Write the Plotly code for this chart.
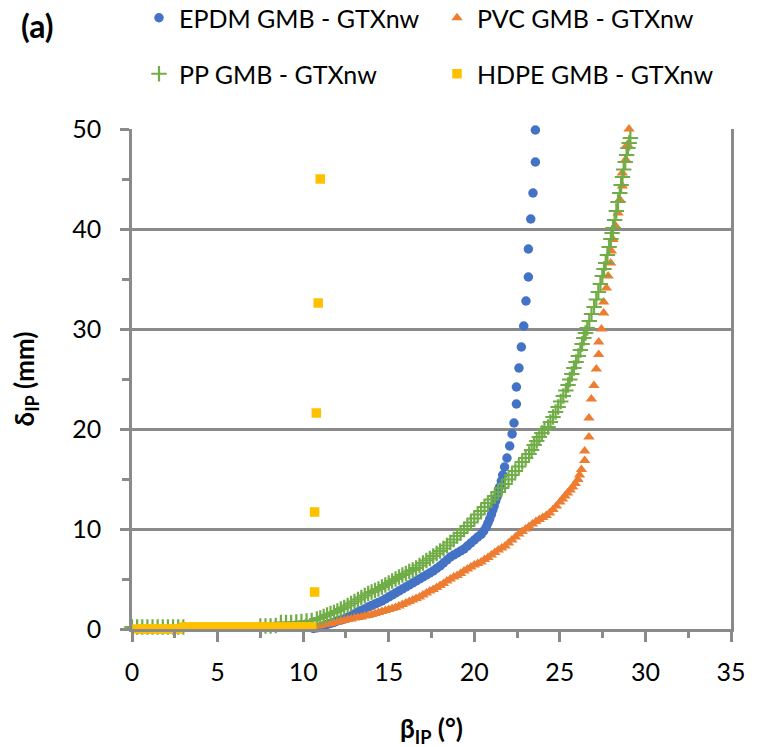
import plotly.graph_objects as go

# ---------------- data ----------------
epdm = [(0.0, -0.2), (0.5, -0.2), (1.0, -0.2), (1.5, -0.2), (2.0, -0.2), (2.5, -0.2), (3.0, -0.2),
        (3.5, -0.2), (4.0, -0.2), (4.5, -0.2), (5.0, -0.2), (5.5, -0.2), (6.0, -0.2), (6.5, -0.2),
        (7.0, -0.2), (7.5, -0.2), (8.0, -0.25), (8.5, -0.25), (9.0, -0.3), (9.4, -0.3),
        (9.8, -0.3), (10.0, -0.25), (10.2, -0.15), (10.4, -0.05), (10.6, 0.05), (10.8, 0.12),
        (11.0, 0.2), (11.2, 0.3), (11.4, 0.45), (11.6, 0.55), (11.8, 0.65), (12.0, 0.8),
        (12.2, 0.9), (12.4, 1.0), (12.6, 1.15), (12.8, 1.3), (13.0, 1.5), (13.2, 1.7),
        (13.4, 1.85), (13.6, 2.0), (13.8, 2.2), (14.0, 2.35), (14.2, 2.5), (14.4, 2.65),
        (14.6, 2.8), (14.8, 3.0), (15.0, 3.2), (15.2, 3.4), (15.4, 3.6), (15.6, 3.8),
        (15.8, 4.0), (16.0, 4.2), (16.2, 4.4), (16.4, 4.6), (16.6, 4.8), (16.8, 5.0),
        (17.0, 5.2), (17.2, 5.4), (17.4, 5.6), (17.6, 5.8), (17.8, 6.05), (18.0, 6.3),
        (18.2, 6.6), (18.4, 6.9), (18.6, 7.2), (18.8, 7.4), (19.0, 7.6), (19.2, 7.8),
        (19.4, 8.0), (19.6, 8.3), (19.8, 8.6), (20.0, 8.9), (20.2, 9.2), (20.4, 9.45),
        (20.55, 9.8), (20.7, 10.2), (20.8, 10.6), (20.9, 11.0), (21.0, 11.45), (21.08, 11.9),
        (21.16, 12.3), (21.25, 12.8), (21.33, 13.2), (21.4, 13.7), (21.48, 14.2), (21.58, 14.8),
        (21.66, 15.4), (21.77, 16.2), (21.91, 17.1), (22.07, 18.3), (22.21, 19.5), (22.32, 20.6),
        (22.46, 22.5), (22.46, 24.2), (22.61, 26.1), (22.75, 28.2), (22.89, 30.3), (23.02, 32.8),
        (23.16, 35.2), (23.16, 38.0), (23.30, 41.0), (23.43, 43.6), (23.57, 46.7), (23.57, 49.9)]

pvc = [(0.0, -0.15), (0.5, -0.15), (1.0, -0.15), (1.5, -0.15), (2.0, -0.15), (2.5, -0.15),
       (3.0, -0.15), (3.5, -0.15), (4.0, -0.15), (4.5, -0.15), (5.0, -0.15), (5.5, -0.15),
       (6.0, -0.15), (6.5, -0.15), (7.0, -0.15), (7.5, -0.2), (8.0, -0.2), (8.5, -0.15),
       (9.0, -0.1), (9.4, -0.1),
       (9.8, -0.05), (10.0, 0.0), (10.2, 0.05), (10.4, 0.15), (10.6, 0.2), (10.8, 0.3),
       (11.0, 0.35), (11.2, 0.45), (11.4, 0.5), (11.6, 0.55), (11.8, 0.65), (12.0, 0.7),
       (12.2, 0.8), (12.4, 0.85), (12.6, 0.95), (12.8, 1.0), (13.0, 1.1), (13.2, 1.15),
       (13.4, 1.2), (13.6, 1.3), (13.8, 1.35), (14.0, 1.45), (14.2, 1.55), (14.4, 1.65),
       (14.6, 1.75), (14.8, 1.85), (15.0, 1.95), (15.2, 2.05), (15.4, 2.15), (15.6, 2.3),
       (15.8, 2.45), (16.0, 2.6), (16.2, 2.75), (16.4, 2.9), (16.6, 3.05), (16.8, 3.2),
       (17.0, 3.4), (17.2, 3.6), (17.4, 3.8), (17.6, 3.95), (17.8, 4.15), (18.0, 4.35),
       (18.2, 4.55), (18.4, 4.8), (18.6, 5.0), (18.8, 5.2), (19.0, 5.35), (19.2, 5.55),
       (19.4, 5.8), (19.6, 6.0), (19.8, 6.2), (20.0, 6.4), (20.2, 6.55), (20.4, 6.7),
       (20.6, 6.95), (20.8, 7.15), (21.0, 7.4), (21.2, 7.65), (21.4, 7.9), (21.6, 8.1),
       (21.8, 8.3), (22.0, 8.6), (22.2, 8.9), (22.4, 9.2), (22.6, 9.5), (22.8, 9.75),
       (23.0, 10.0), (23.2, 10.25), (23.4, 10.5), (23.6, 10.75), (23.8, 10.95), (24.0, 11.15),
       (24.2, 11.35), (24.4, 11.6), (24.6, 11.95), (24.8, 12.3), (25.0, 12.7), (25.15, 13.0),
       (25.3, 13.3), (25.45, 13.6), (25.6, 13.9), (25.75, 14.2), (25.9, 14.55), (26.06, 14.95),
       (26.15, 15.4), (26.26, 15.95), (26.45, 16.85), (26.45, 17.8), (26.70, 19.2), (26.70, 21.1),
       (26.84, 23.0), (26.99, 24.35), (27.13, 26.0), (27.27, 27.45), (27.27, 28.7), (27.43, 30.0),
       (27.56, 31.6), (27.56, 32.7), (27.72, 34.1), (27.82, 35.3), (27.97, 36.6), (28.01, 37.8),
       (28.11, 38.95), (28.26, 40.3), (28.40, 41.6), (28.50, 42.95), (28.65, 44.3), (28.65, 45.6),
       (28.85, 46.95), (28.95, 48.45), (29.04, 50.0)]

pp = [(0.0, 0.2), (0.3, 0.2), (0.6, 0.2), (0.9, 0.2), (1.2, 0.2), (1.5, 0.2), (1.8, 0.2),
      (2.1, 0.2), (2.4, 0.2), (2.7, 0.2), (3.0, 0.2), (3.3, -0.1), (3.6, -0.1), (3.9, -0.1),
      (4.2, -0.1), (4.5, -0.1), (4.8, -0.1), (5.1, -0.1), (5.4, -0.1), (5.7, -0.1), (6.0, -0.1),
      (6.3, -0.1), (6.6, -0.1), (6.9, -0.1), (7.2, -0.1), (7.5, 0.3), (7.8, 0.3), (8.1, 0.3),
      (8.4, 0.35), (8.7, 0.65), (9.0, 0.65), (9.3, 0.65), (9.6, 0.7), (9.9, 0.75), (10.2, 0.8),
      (10.5, 0.85),
      (10.8, 1.0), (11.0, 1.1), (11.2, 1.25), (11.4, 1.4), (11.6, 1.55), (11.8, 1.65),
      (12.0, 1.8), (12.2, 2.0), (12.4, 2.15), (12.6, 2.35), (12.8, 2.55), (13.0, 2.75),
      (13.2, 2.95), (13.4, 3.15), (13.6, 3.35), (13.8, 3.55), (14.0, 3.7), (14.2, 3.85),
      (14.4, 4.0), (14.6, 4.2), (14.8, 4.4), (15.0, 4.6), (15.2, 4.8), (15.4, 5.0),
      (15.6, 5.2), (15.8, 5.4), (16.0, 5.55), (16.2, 5.75), (16.4, 5.9), (16.6, 6.1),
      (16.8, 6.35), (17.0, 6.6), (17.2, 6.85), (17.4, 7.05), (17.6, 7.3), (17.8, 7.55),
      (18.0, 7.8), (18.2, 8.05), (18.4, 8.35), (18.6, 8.65), (18.8, 8.95), (19.0, 9.3),
      (19.2, 9.6), (19.4, 9.95), (19.6, 10.3), (19.8, 10.65), (20.0, 11.05), (20.2, 11.45),
      (20.4, 11.8), (20.6, 12.2), (20.8, 12.6), (21.0, 12.95), (21.2, 13.3), (21.4, 13.7),
      (21.6, 14.1), (21.8, 14.5), (22.0, 14.95), (22.2, 15.4), (22.4, 15.8), (22.6, 16.25),
      (22.8, 16.7), (23.0, 17.1), (23.2, 17.5), (23.35, 17.9), (23.5, 18.4), (23.65, 18.8),
      (23.8, 19.2), (23.95, 19.6), (24.1, 19.9), (24.31, 20.2), (24.45, 20.7), (24.6, 21.2),
      (24.75, 21.7), (24.9, 22.2), (25.05, 22.75), (25.2, 23.3), (25.35, 23.85), (25.48, 24.4),
      (25.58, 24.95), (25.7, 25.5), (25.82, 26.1), (25.95, 26.7), (26.08, 27.3), (26.2, 27.9),
      (26.3, 28.5), (26.4, 29.1), (26.5, 29.6), (26.6, 30.1), (26.72, 30.8), (26.85, 31.5),
      (27.0, 32.2), (27.13, 32.95), (27.25, 33.7), (27.37, 34.5), (27.48, 35.3), (27.58, 36.0),
      (27.68, 36.6), (27.78, 37.4), (27.88, 38.2), (27.98, 39.0), (28.05, 39.6), (28.11, 40.1),
      (28.2, 40.9), (28.3, 41.8), (28.4, 42.7), (28.5, 43.6), (28.58, 44.4), (28.66, 45.2),
      (28.73, 45.95), (28.82, 46.7), (28.9, 47.4), (28.98, 48.1), (29.05, 48.6), (29.12, 49.1)]

hdpe = [(0.3, 0.0), (0.6, 0.0), (0.9, 0.0), (1.2, 0.0), (1.5, 0.0), (1.8, 0.0), (2.1, 0.0),
        (2.4, 0.0), (2.7, 0.0), (3.0, 0.2), (3.3, 0.2), (3.6, 0.2), (3.9, 0.2), (4.2, 0.2),
        (4.5, 0.2), (4.8, 0.2), (5.1, 0.2), (5.4, 0.2), (5.7, 0.2), (6.0, 0.2), (6.3, 0.2),
        (6.6, 0.2), (6.9, 0.2), (7.2, 0.2), (7.5, 0.2), (7.8, 0.2), (8.1, 0.2), (8.4, 0.2),
        (8.7, 0.2), (9.0, 0.2), (9.3, 0.2), (9.6, 0.2), (9.9, 0.2), (10.2, 0.2), (10.5, 0.2),
        (10.67, 3.7), (10.67, 11.7), (10.77, 21.6), (10.88, 32.6), (11.0, 45.0)]

names = ["EPDM GMB - GTXnw", "PVC GMB - GTXnw", "PP GMB - GTXnw", "HDPE GMB - GTXnw"]
x_ticks = [0, 5, 10, 15, 20, 25, 30, 35]
y_ticks = [0, 10, 20, 30, 40, 50]

# ---------------- styling ----------------
FONT = "Lato"
BLUE, ORANGE, GREEN, YELLOW = "#4472C4", "#ED7D31", "#70AD47", "#FFC000"
GRAY = "#8a8a8a"
# the page body has an 8 px margin, so figure-space positions are (screen position - 8)
OFF = 8
W, H = 757, 747
L, T = 132 - OFF, 129 - OFF
PW, PH = 599, 500
R, B = W - L - PW, H - T - PH


def xs(series):
    return [p[0] for p in series]


def ys(series):
    return [p[1] for p in series]


fig = go.Figure()
fig.add_trace(go.Scatter(x=xs(epdm), y=ys(epdm), mode="markers", name=names[0],
                         legend="legend", showlegend=True, cliponaxis=False,
                         marker=dict(symbol="circle", size=9.5, color=BLUE)))
fig.add_trace(go.Scatter(x=xs(pvc), y=ys(pvc), mode="markers", name=names[1],
                         legend="legend2", showlegend=True, cliponaxis=False,
                         marker=dict(symbol="triangle-up", size=10, color=ORANGE)))
fig.add_trace(go.Scatter(x=xs(pp), y=ys(pp), mode="markers", name=names[2],
                         legend="legend3", showlegend=True, cliponaxis=False,
                         marker=dict(symbol="cross-thin", size=11, color=GREEN,
                                     line=dict(color=GREEN, width=2.2))))
fig.add_trace(go.Scatter(x=xs(hdpe), y=ys(hdpe), mode="markers", name=names[3],
                         legend="legend4", showlegend=True, cliponaxis=False,
                         marker=dict(symbol="square", size=9.5, color=YELLOW)))


def leg(sx, sy):
    # sx: screen x of legend box left edge, sy: screen y of the row centre
    return dict(x=(sx - OFF) / W, y=1 - (sy - OFF) / H, xref="container", yref="container",
                xanchor="left", yanchor="middle", orientation="h",
                font=dict(family=FONT, size=25, color="black"),
                bgcolor="rgba(0,0,0,0)", borderwidth=0, itemwidth=30)


fig.update_layout(
    width=W, height=H, showlegend=True,
    margin=dict(l=L, r=R, t=T, b=B, autoexpand=False),
    paper_bgcolor="white", plot_bgcolor="white",
    font=dict(family=FONT, size=25, color="black"),
    legend=leg(139, 18), legend2=leg(437, 18), legend3=leg(139, 74), legend4=leg(437, 74),
    xaxis=dict(range=[0, 35], tickvals=x_ticks, ticktext=[str(v) for v in x_ticks],
               automargin=False, showgrid=False, zeroline=False,
               showline=True, linecolor=GRAY, linewidth=2.5,
               ticks="outside", ticklen=10, tickwidth=2.5, tickcolor=GRAY,
               ticklabelstandoff=9,
               minor=dict(dtick=2.5, tick0=0, ticks="outside", ticklen=6, tickwidth=2.5,
                          tickcolor=GRAY, showgrid=False),
               tickfont=dict(family=FONT, size=25, color="black"),
               title=dict(text="<b>β<sub>IP</sub> (°)</b>", standoff=36,
                          font=dict(family=FONT, size=26, color="black"))),
    yaxis=dict(range=[0, 50], tickvals=y_ticks, ticktext=[str(v) for v in y_ticks],
               automargin=False, showgrid=True, gridcolor=GRAY, gridwidth=2.5, zeroline=False,
               showline=True, linecolor=GRAY, linewidth=2.5, mirror=True,
               ticks="outside", ticklen=9, tickwidth=2.5, tickcolor=GRAY,
               ticklabelstandoff=14,
               minor=dict(dtick=5, tick0=0, ticks="outside", ticklen=7, tickwidth=2.5,
                          tickcolor=GRAY, showgrid=False),
               tickfont=dict(family=FONT, size=25, color="black"),
               title=dict(text="<b>δ<sub>IP</sub> (mm)</b>", standoff=32,
                          font=dict(family=FONT, size=26, color="black"))),
    annotations=[dict(text="<b>(a)</b>", x=(37 - OFF - L) / PW, y=(H - B - (25 - OFF)) / PH,
                      xref="paper", yref="paper", showarrow=False,
                      xanchor="center", yanchor="middle",
                      font=dict(family=FONT, size=32, color="black"))],
)

fig.write_html("out.html")
